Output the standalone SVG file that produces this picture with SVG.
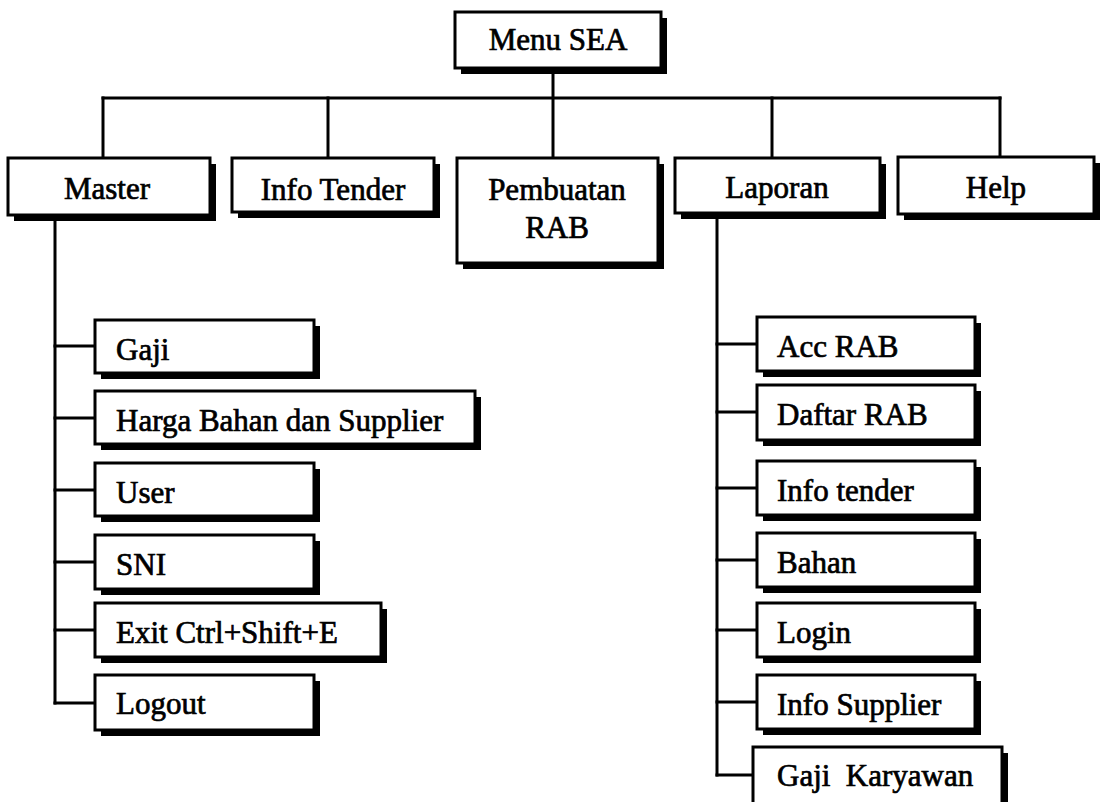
<svg xmlns="http://www.w3.org/2000/svg" width="1116" height="802" viewBox="0 0 1116 802">
  <style>
    .box { fill: #fff; stroke: #000; stroke-width: 3; }
    .shadow { fill: #000; }
    .lbl { font-family: "Liberation Serif", "Times New Roman", serif; font-size: 31px; fill: #000; stroke: #000; stroke-width: 0.7; }
    .mid { text-anchor: middle; }
    .wire { fill: none; stroke: #000; stroke-width: 3; stroke-linecap: square; }
  </style>
  <rect width="1116" height="802" fill="#fff"/>

  <!-- connectors -->
  <g id="connectors" class="wire">
    <path d="M553 68 V158"/>
    <path d="M103 98 H1000"/>
    <path d="M103 98 V158"/>
    <path d="M328 98 V158"/>
    <path d="M772 98 V158"/>
    <path d="M1000 98 V157"/>
    <!-- Master submenu -->
    <path d="M55 215 V703"/>
    <path d="M55 346 H95"/>
    <path d="M55 418 H95"/>
    <path d="M55 490 H95"/>
    <path d="M55 562 H95"/>
    <path d="M55 630 H95"/>
    <path d="M55 703 H95"/>
    <!-- Laporan submenu -->
    <path d="M717 213 V775"/>
    <path d="M717 344 H757"/>
    <path d="M717 412 H757"/>
    <path d="M717 488 H757"/>
    <path d="M717 560 H757"/>
    <path d="M717 630 H757"/>
    <path d="M717 702 H757"/>
    <path d="M717 775 H753"/>
  </g>

  <!-- top level -->
  <g id="menu-sea">
    <rect class="shadow" x="461" y="18" width="206" height="56"/>
    <rect class="box" x="455" y="12" width="206" height="56"/>
    <text class="lbl mid" x="558" y="50">Menu SEA</text>
  </g>

  <!-- main menu row -->
  <g id="master">
    <rect class="shadow" x="14" y="164" width="202" height="57"/>
    <rect class="box" x="8" y="158" width="202" height="57"/>
    <text class="lbl mid" x="107" y="199">Master</text>
  </g>
  <g id="info-tender">
    <rect class="shadow" x="238" y="164" width="202" height="54"/>
    <rect class="box" x="232" y="158" width="202" height="54"/>
    <text class="lbl mid" x="333" y="200">Info Tender</text>
  </g>
  <g id="pembuatan-rab">
    <rect class="shadow" x="463" y="164" width="201" height="105"/>
    <rect class="box" x="457" y="158" width="201" height="105"/>
    <text class="lbl mid" x="557" y="200">Pembuatan</text>
    <text class="lbl mid" x="557" y="238">RAB</text>
  </g>
  <g id="laporan">
    <rect class="shadow" x="681" y="164" width="205" height="55"/>
    <rect class="box" x="675" y="158" width="205" height="55"/>
    <text class="lbl mid" x="777" y="198">Laporan</text>
  </g>
  <g id="help">
    <rect class="shadow" x="904" y="163" width="196" height="57"/>
    <rect class="box" x="898" y="157" width="196" height="57"/>
    <text class="lbl mid" x="996" y="198">Help</text>
  </g>

  <!-- Master submenu items -->
  <g id="gaji">
    <rect class="shadow" x="101" y="326" width="219" height="53"/>
    <rect class="box" x="95" y="320" width="219" height="53"/>
    <text class="lbl" x="116" y="360">Gaji</text>
  </g>
  <g id="harga-bahan">
    <rect class="shadow" x="101" y="397" width="380" height="53"/>
    <rect class="box" x="95" y="391" width="380" height="53"/>
    <text class="lbl" x="116" y="431">Harga Bahan dan Supplier</text>
  </g>
  <g id="user">
    <rect class="shadow" x="101" y="469" width="219" height="53"/>
    <rect class="box" x="95" y="463" width="219" height="53"/>
    <text class="lbl" x="116" y="503">User</text>
  </g>
  <g id="sni">
    <rect class="shadow" x="101" y="541" width="219" height="54"/>
    <rect class="box" x="95" y="535" width="219" height="54"/>
    <text class="lbl" x="116" y="575">SNI</text>
  </g>
  <g id="exit">
    <rect class="shadow" x="101" y="609" width="286" height="54"/>
    <rect class="box" x="95" y="603" width="286" height="54"/>
    <text class="lbl" x="116" y="643">Exit Ctrl+Shift+E</text>
  </g>
  <g id="logout">
    <rect class="shadow" x="101" y="681" width="219" height="55"/>
    <rect class="box" x="95" y="675" width="219" height="55"/>
    <text class="lbl" x="116" y="714">Logout</text>
  </g>

  <!-- Laporan submenu items -->
  <g id="acc-rab">
    <rect class="shadow" x="763" y="323" width="218" height="54"/>
    <rect class="box" x="757" y="317" width="218" height="54"/>
    <text class="lbl" x="777" y="357">Acc RAB</text>
  </g>
  <g id="daftar-rab">
    <rect class="shadow" x="763" y="391" width="218" height="55"/>
    <rect class="box" x="757" y="385" width="218" height="55"/>
    <text class="lbl" x="777" y="425">Daftar RAB</text>
  </g>
  <g id="info-tender-lap">
    <rect class="shadow" x="763" y="467" width="218" height="54"/>
    <rect class="box" x="757" y="461" width="218" height="54"/>
    <text class="lbl" x="777" y="501">Info tender</text>
  </g>
  <g id="bahan">
    <rect class="shadow" x="763" y="539" width="218" height="54"/>
    <rect class="box" x="757" y="533" width="218" height="54"/>
    <text class="lbl" x="777" y="573">Bahan</text>
  </g>
  <g id="login">
    <rect class="shadow" x="763" y="609" width="218" height="54"/>
    <rect class="box" x="757" y="603" width="218" height="54"/>
    <text class="lbl" x="777" y="643">Login</text>
  </g>
  <g id="info-supplier">
    <rect class="shadow" x="763" y="681" width="218" height="54"/>
    <rect class="box" x="757" y="675" width="218" height="54"/>
    <text class="lbl" x="777" y="715">Info Supplier</text>
  </g>
  <g id="gaji-karyawan">
    <rect class="shadow" x="759" y="753" width="249" height="60"/>
    <rect class="box" x="753" y="747" width="249" height="60"/>
    <text class="lbl" x="777" y="786" xml:space="preserve">Gaji  Karyawan</text>
  </g>
</svg>
